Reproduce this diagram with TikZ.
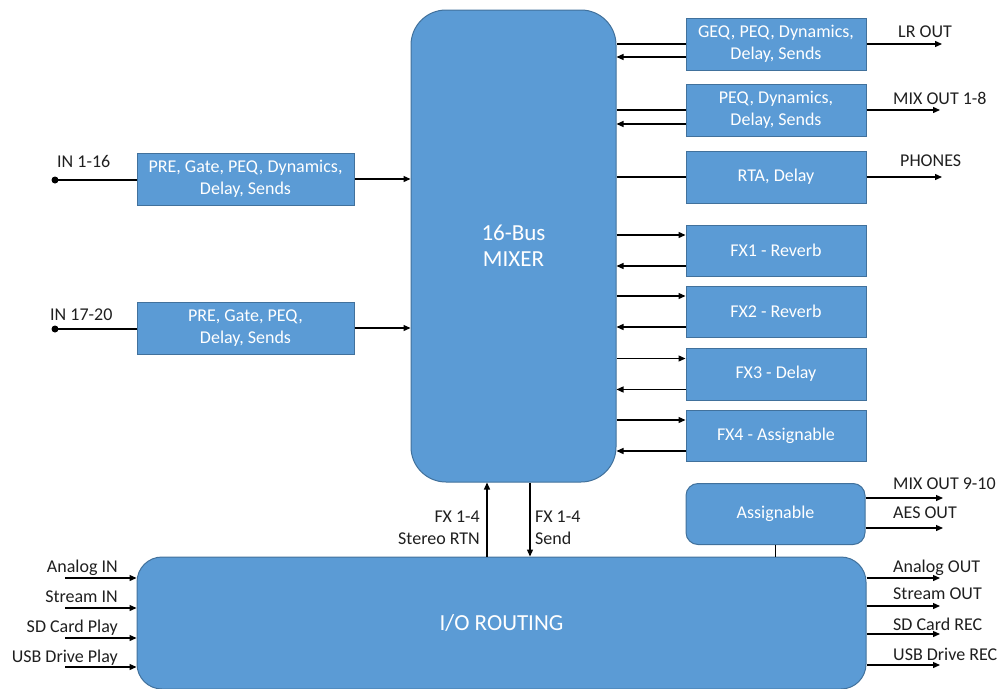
\documentclass[tikz,border=0pt]{standalone}
\usepackage{fontspec}
\setmainfont{Carlito}
\usetikzlibrary{arrows.meta}
\definecolor{boxfill}{HTML}{5B9BD5}
\definecolor{boxline}{HTML}{41719C}
\begin{document}
\begin{tikzpicture}[x=1pt,y=-1pt,
  box/.style={draw=boxline, fill=boxfill, line width=1pt, text=white, font=\fontsize{18}{22}\selectfont, align=center, inner sep=0pt},
  rbox/.style={box, minimum width=180pt, minimum height=52pt},
  wire/.style={line width=1.3pt, black},
  arr/.style={wire, -{Triangle[length=7pt,width=6pt]}},
  lbl/.style={font=\fontsize{18}{22}\selectfont, inner sep=0pt, text=black!88}
]
\useasboundingbox (0,0) rectangle (1000,688);
\clip (0,0) rectangle (1000,688);

% main blocks
\node[box, minimum width=205pt, minimum height=472pt, rounded corners=35pt, font=\fontsize{23}{26}\selectfont] (mixer) at (513.5,246) {16-Bus\\MIXER};
\node[box, minimum width=729pt, minimum height=132pt, rounded corners=25pt, font=\fontsize{23}{26}\selectfont] (io) at (501.5,623) {I/O ROUTING};

% input blocks
\node[box, minimum width=217pt, minimum height=52pt] (in1) at (245.5,179) {PRE, Gate, PEQ, Dynamics,\\Delay, Sends};
\node[box, minimum width=217pt, minimum height=52pt] (in2) at (245.5,328) {PRE, Gate, PEQ,\\Delay, Sends};

% right blocks
\node[rbox] (geq) at (776,44) {GEQ, PEQ, Dynamics,\\Delay, Sends};
\node[rbox] (peq) at (776,110) {PEQ, Dynamics,\\Delay, Sends};
\node[rbox] (rta) at (776,177) {RTA, Delay};
\node[rbox, minimum height=51pt] (fx1) at (776,250.5) {FX1 - Reverb};
\node[rbox, minimum height=51pt] (fx2) at (776,311.5) {FX2 - Reverb};
\node[rbox] (fx3) at (776,374) {FX3 - Delay};
\node[rbox, minimum height=51pt] (fx4) at (776,435.5) {FX4 - Assignable};
\node[box, minimum width=179pt, minimum height=61pt, rounded corners=12pt] (assign) at (775.5,514) {Assignable};

% inputs
\coordinate (in1src) at (55,180);
\coordinate (in2src) at (55,329);
\draw[wire] (in1src) -- (in1src -| in1.west);
\draw[wire] (in2src) -- (in2src -| in2.west);
\fill (in1src) circle (3.5pt);
\fill (in2src) circle (3.5pt);
\draw[arr] (in1.east) -- (in1.east -| mixer.west);
\draw[arr] (in2.east) -- (in2.east -| mixer.west);
\node[lbl, anchor=base west] (in1lbl) at (57,167) {IN 1-16};
\node[lbl, anchor=base west] (in2lbl) at (50,320) {IN 17-20};

% mixer to output processing
\draw[wire] (geq.west -| mixer.east) -- (geq.west);
\draw[arr] ([yshift=-13pt]geq.west) -- ([yshift=-13pt]geq.west -| mixer.east);
\draw[wire] (peq.west -| mixer.east) -- (peq.west);
\draw[arr] ([yshift=-14pt]peq.west) -- ([yshift=-14pt]peq.west -| mixer.east);
\draw[wire] (rta.west -| mixer.east) -- (rta.west);

% outputs
\coordinate (lrend) at (942,44);
\coordinate (mixend) at (940,110);
\coordinate (phend) at (942,177);
\draw[arr] (geq.east) -- (lrend);
\draw[arr] (peq.east) -- (mixend);
\draw[arr] (rta.east) -- (phend);
\node[lbl, anchor=base west] (lrlbl) at (898,37) {LR OUT};
\node[lbl, anchor=base west] (mixlbl) at (893,104) {MIX OUT 1-8};
\node[lbl, anchor=base west] (phlbl) at (900,166) {PHONES};

% FX loops
\foreach \f in {fx1,fx2,fx3,fx4}{
  \draw[arr] ([yshift=15.5pt]\f.west -| mixer.east) -- ([yshift=15.5pt]\f.west);
  \draw[arr] ([yshift=-15.5pt]\f.west) -- ([yshift=-15.5pt]\f.west -| mixer.east);
}

% assignable
\coordinate (m910end) at (943,498);
\coordinate (aesend) at (943,528);
\draw[arr] ([yshift=16pt]assign.east) -- (m910end);
\draw[arr] ([yshift=-14pt]assign.east) -- (aesend);
\node[lbl, anchor=base west] (m910lbl) at (893,489) {MIX OUT 9-10};
\node[lbl, anchor=base west] (aeslbl) at (893,518) {AES OUT};
\draw[wire] (assign.south) -- (assign.south |- io.north);

% mixer <-> io
\draw[arr] ([xshift=-26.5pt]mixer.south |- io.north) -- ([xshift=-26.5pt]mixer.south);
\draw[arr] ([xshift=16.5pt]mixer.south) -- ([xshift=16.5pt]mixer.south |- io.north);
\node[lbl, align=right, anchor=east] (rtnlbl) at (480,528) {FX 1-4\\Stereo RTN};
\node[lbl, align=left, anchor=west] (sendlbl) at (535,528) {FX 1-4\\Send};

% io inputs
\coordinate (ain) at (65,578);
\coordinate (sin) at (65,608);
\coordinate (sdin) at (65,638);
\coordinate (usbin) at (65,667);
\draw[arr] (ain) -- (ain -| io.west);
\draw[arr] (sin) -- (sin -| io.west);
\draw[arr] (sdin) -- (sdin -| io.west);
\draw[arr] (usbin) -- (usbin -| io.west);
\node[lbl, anchor=base east] (ainlbl) at (118,572) {Analog IN};
\node[lbl, anchor=base east] (sinlbl) at (118,602) {Stream IN};
\node[lbl, anchor=base east] (sdinlbl) at (118,632) {SD Card Play};
\node[lbl, anchor=base east] (usbinlbl) at (118,662) {USB Drive Play};

% io outputs
\coordinate (aout) at (940,578);
\coordinate (sout) at (940,606);
\coordinate (sdout) at (940,634);
\coordinate (usbout) at (940,665);
\draw[arr] (aout -| io.east) -- (aout);
\draw[arr] (sout -| io.east) -- (sout);
\draw[arr] (sdout -| io.east) -- (sdout);
\draw[arr] (usbout -| io.east) -- (usbout);
\node[lbl, anchor=base west] (aoutlbl) at (893,572) {Analog OUT};
\node[lbl, anchor=base west] (soutlbl) at (893,599) {Stream OUT};
\node[lbl, anchor=base west] (sdoutlbl) at (893,630) {SD Card REC};
\node[lbl, anchor=base west] (usboutlbl) at (893,660) {USB Drive REC};
\end{tikzpicture}
\end{document}
